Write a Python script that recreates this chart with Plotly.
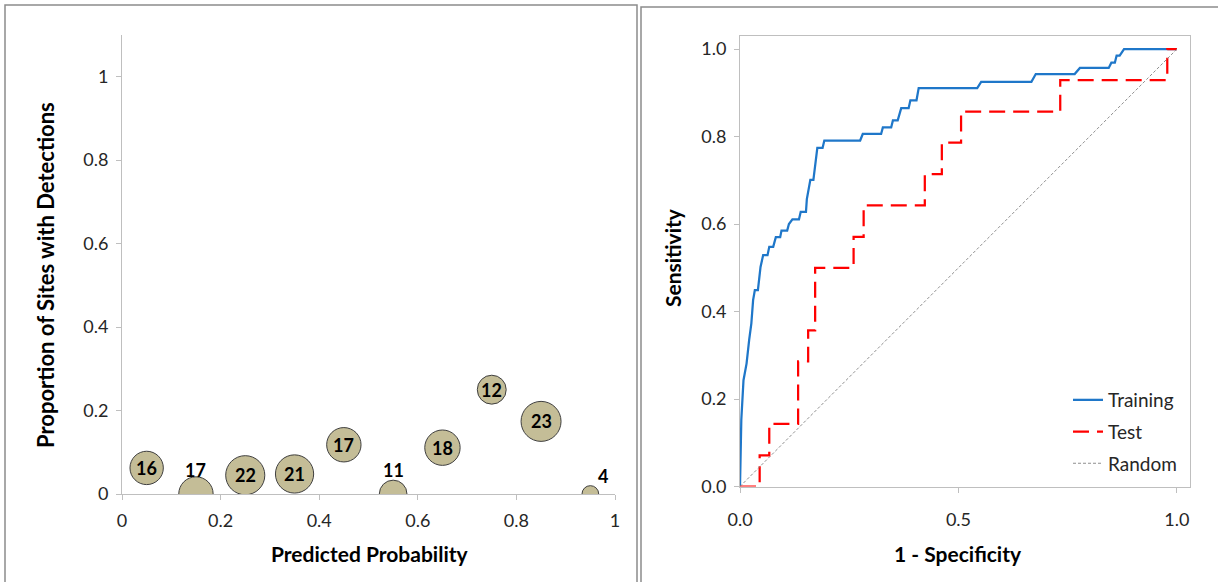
import plotly.graph_objects as go

# ---------------- data ----------------
# Left panel: calibration bubbles
pred_prob = [0.05, 0.15, 0.25, 0.35, 0.45, 0.55, 0.65, 0.75, 0.85, 0.95]
prop_detect = [0.0625, 0.0, 0.045, 0.048, 0.118, 0.0, 0.111, 0.25, 0.174, 0.0]
n_sites = [16, 17, 22, 21, 17, 11, 18, 12, 23, 4]

# Right panel: ROC curves
train_fpr = [0.0, 0.003, 0.008, 0.015, 0.021, 0.026, 0.030, 0.034, 0.041, 0.044,
             0.047, 0.053, 0.063, 0.067, 0.076, 0.082, 0.092, 0.095, 0.108, 0.112,
             0.120, 0.124, 0.135, 0.139, 0.151, 0.153, 0.161, 0.168, 0.173, 0.177,
             0.189, 0.193, 0.275, 0.281, 0.323, 0.327, 0.346, 0.350, 0.361, 0.369,
             0.386, 0.390, 0.404, 0.409, 0.543, 0.552, 0.667, 0.677, 0.766, 0.778,
             0.844, 0.850, 0.858, 0.862, 0.869, 0.879, 1.0]
train_tpr = [0.0, 0.152, 0.243, 0.281, 0.335, 0.373, 0.426, 0.449, 0.449, 0.480,
             0.502, 0.529, 0.529, 0.548, 0.548, 0.570, 0.570, 0.585, 0.585, 0.600,
             0.611, 0.611, 0.611, 0.628, 0.628, 0.657, 0.701, 0.701, 0.747, 0.774,
             0.774, 0.791, 0.791, 0.806, 0.806, 0.821, 0.821, 0.837, 0.837, 0.865,
             0.865, 0.883, 0.883, 0.911, 0.911, 0.925, 0.925, 0.943, 0.943, 0.957,
             0.957, 0.969, 0.969, 0.985, 0.985, 1.0, 1.0]

test_fpr = [0.0, 0.045, 0.067, 0.133, 0.156, 0.172, 0.260, 0.283, 0.423, 0.462,
            0.506, 0.733, 0.978, 1.0]
test_tpr = [0.0, 0.071, 0.143, 0.286, 0.357, 0.500, 0.571, 0.643, 0.714, 0.786,
            0.857, 0.929, 1.0, 1.0]

random_x = [0.0, 1.0]
random_y = [0.0, 1.0]

# ---------------- styling ----------------
W, H = 1218, 582
FONT = "Lato"
AXIS_GREY = "#BFBFBF"
TICK_COLOR = "#262626"
BUBBLE_FILL = "#C4BD97"


def px_x(p):
    return p / W


def px_y(p):
    return 1 - p / H


fig = go.Figure()

# Left: bubbles
fig.add_trace(go.Scatter(
    x=pred_prob, y=prop_detect, mode="markers",
    marker=dict(size=n_sites, sizemode="area", sizeref=2 * max(n_sites) / 40 ** 2,
                color=BUBBLE_FILL, line=dict(color="#3F3F3F", width=1), opacity=1),
    xaxis="x", yaxis="y", showlegend=False, hoverinfo="skip"))

# Right: ROC
fig.add_trace(go.Scatter(
    x=train_fpr, y=train_tpr, mode="lines", name="Training",
    line=dict(color="#1F77C9", width=2.25), xaxis="x2", yaxis="y2",
    legendgroup="a"))
fig.add_trace(go.Scatter(
    x=test_fpr, y=test_tpr, mode="lines", name="Test",
    line=dict(color="#FF0000", width=2.25, dash="16px,8px", shape="hv"),
    xaxis="x2", yaxis="y2", legendgroup="b"))
fig.add_trace(go.Scatter(
    x=random_x, y=random_y, mode="lines", name="Random",
    line=dict(color="#8F8F8F", width=1, dash="3px,2px"),
    xaxis="x2", yaxis="y2", legendgroup="c"))

annotations = []
# bubble labels
label_font = dict(family=FONT, size=18, color="black")
for x, y, n in zip(pred_prob, prop_detect, n_sites):
    if y > 0:
        annotations.append(dict(x=x, y=y, xref="x", yref="y", text=f"<b>{n}</b>",
                                showarrow=False, font=label_font))
    else:
        small = n < 8
        annotations.append(dict(x=x, y=y, xref="x", yref="y", text=f"<b>{n}</b>",
                                showarrow=False, xshift=13 if small else 0,
                                yshift=18 if small else 24, font=label_font))

# axis titles
title_font = dict(family=FONT, size=21, color="black")
annotations += [
    dict(x=px_x(370), y=px_y(553), xref="paper", yref="paper", text="<b>Predicted Probability</b>",
         showarrow=False, font=title_font, xanchor="center", yanchor="middle"),
    dict(x=px_x(45), y=px_y(275), xref="paper", yref="paper",
         text="<b>Proportion of Sites with Detections</b>", textangle=-90,
         showarrow=False, font=dict(family=FONT, size=22, color="black"),
         xanchor="center", yanchor="middle"),
    dict(x=px_x(958), y=px_y(553), xref="paper", yref="paper", text="<b>1 - Specificity</b>",
         showarrow=False, font=title_font, xanchor="center", yanchor="middle"),
    dict(x=px_x(672), y=px_y(258), xref="paper", yref="paper", text="<b>Sensitivity</b>",
         textangle=-90, showarrow=False, font=title_font, xanchor="center", yanchor="middle"),
]

shapes = [
    dict(type="rect", xref="paper", yref="paper", x0=px_x(5), x1=px_x(637), y0=-0.2, y1=px_y(5),
         line=dict(color="#8C8C8C", width=1.5), fillcolor="rgba(0,0,0,0)", layer="below"),
    dict(type="rect", xref="paper", yref="paper", x0=px_x(641), x1=1.2, y0=-0.2, y1=px_y(7),
         line=dict(color="#8C8C8C", width=1.5), fillcolor="rgba(0,0,0,0)", layer="below"),
]

tick_font = dict(family=FONT, size=18, color=TICK_COLOR)
common = dict(showgrid=False, zeroline=False, showline=True, linecolor=AXIS_GREY, linewidth=1,
              ticks="outside", ticklen=5, tickcolor=AXIS_GREY, tickfont=tick_font,
              automargin=False, fixedrange=True)

fig.update_layout(
    width=W, height=H,
    margin=dict(l=0, r=0, t=0, b=0),
    paper_bgcolor="white", plot_bgcolor="white",
    xaxis=dict(domain=[px_x(122), px_x(615)], range=[0, 1], tickvals=[0, 0.2, 0.4, 0.6, 0.8, 1],
               anchor="y", ticklabelstandoff=5, **common),
    yaxis=dict(domain=[px_y(494), px_y(35)], range=[0, 1.1], tickvals=[0, 0.2, 0.4, 0.6, 0.8, 1],
               anchor="x", ticklabelstandoff=4, **common),
    xaxis2=dict(domain=[px_x(740), px_x(1190)], range=[0, 1.03], tickvals=[0, 0.5, 1],
                tickformat=".1f", anchor="y2", mirror=True, ticklabelstandoff=12, **common),
    yaxis2=dict(domain=[px_y(486.5), px_y(36)], range=[0, 1.03],
                tickvals=[0, 0.2, 0.4, 0.6, 0.8, 1], tickformat=".1f", anchor="x2",
                mirror=True, ticklabelstandoff=4, **common),
    legend=dict(x=px_x(1068), y=px_y(381), xanchor="left", yanchor="top",
                font=dict(family=FONT, size=19, color="#262626"), tracegroupgap=4,
                bgcolor="rgba(0,0,0,0)", borderwidth=0),
    annotations=annotations,
    shapes=shapes,
    font=dict(family=FONT),
)

fig.write_html("out.html")
